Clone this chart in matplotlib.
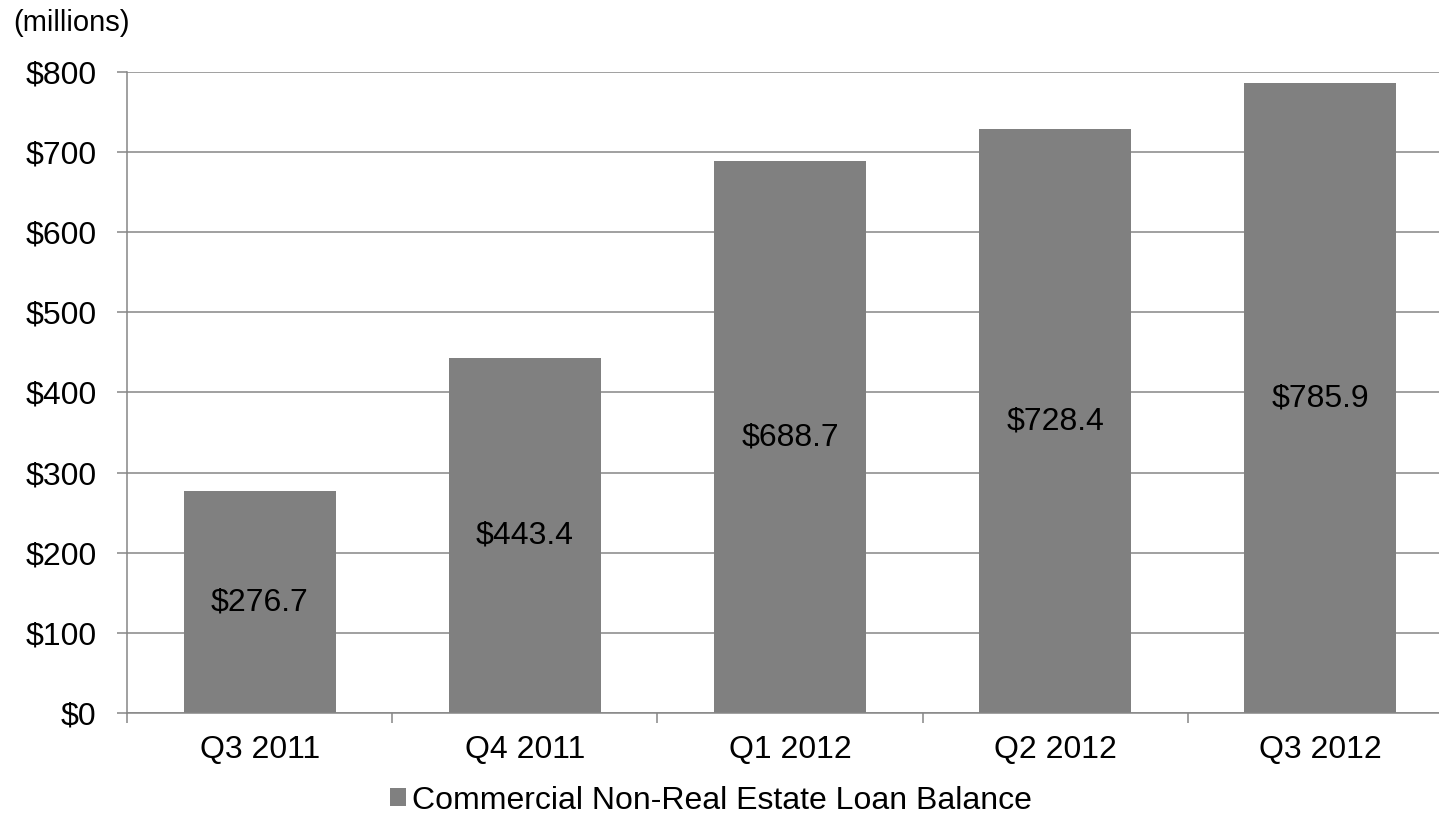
import matplotlib.pyplot as plt
from matplotlib.ticker import FuncFormatter, FixedLocator

plt.rcParams["font.family"] = ["Liberation Sans", "DejaVu Sans"]

quarters = ["Q3 2011", "Q4 2011", "Q1 2012", "Q2 2012", "Q3 2012"]
balance = [276.7, 443.4, 688.7, 728.4, 785.9]
y_ticks = [0, 100, 200, 300, 400, 500, 600, 700, 800]

grid_color = "#868686"
bar_color = "#808080"
fs = 23

fig = plt.figure(figsize=(14.39, 8.17), dpi=100)
# plot area runs past the right edge of the picture, as in the original slide
ax = fig.add_axes([0.0883, 0.1273, 0.9214, 0.7846])

x = list(range(len(quarters)))
bars = ax.bar(x, balance, width=0.574, color=bar_color, zorder=3,
              label="Commercial Non-Real Estate Loan Balance")
ax.bar_label(bars, labels=[f"${v:.1f}" for v in balance], label_type="center",
             fontsize=fs, color="black", zorder=4)

ax.set_xlim(-0.5, len(quarters) - 0.5)
ax.set_ylim(0, 800)
ax.set_yticks(y_ticks)
ax.yaxis.set_major_formatter(FuncFormatter(lambda v, p: f"${v:.0f}"))
ax.grid(axis="y", color=grid_color, linewidth=1.1, zorder=0)

ax.set_xticks(x)
ax.set_xticklabels(quarters)
ax.xaxis.set_minor_locator(FixedLocator([i - 0.5 for i in range(len(quarters) + 1)]))
ax.tick_params(axis="x", which="major", length=0, pad=16, labelsize=fs)
ax.tick_params(axis="x", which="minor", length=7, width=1.1, color=grid_color)
ax.tick_params(axis="y", length=7, width=1.1, color=grid_color, pad=15, labelsize=fs)

for side in ["top", "right"]:
    ax.spines[side].set_visible(False)
for side in ["left", "bottom"]:
    ax.spines[side].set_color(grid_color)
    ax.spines[side].set_linewidth(1.1)
    ax.spines[side].set_zorder(5)

fig.text(0.009, 0.972, "(millions)", fontsize=21, va="center", ha="left")

fig.legend(loc="center", bbox_to_anchor=(0.494, 0.02), frameon=False,
           fontsize=fs, handlelength=0.5, handleheight=0.5, handletextpad=0.2)

fig.savefig("out.png", dpi=100)
